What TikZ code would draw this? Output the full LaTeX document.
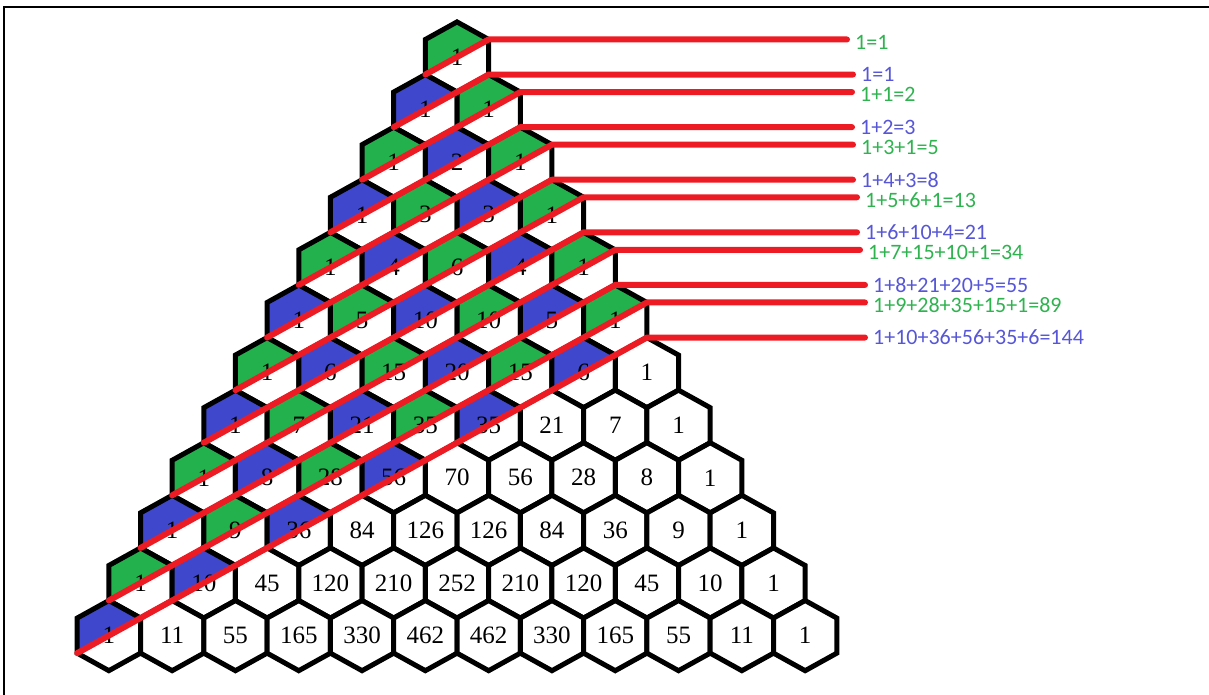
\documentclass[tikz,border=0pt]{standalone}
\usepackage{fontspec}
\setmainfont{Liberation Serif}
\newfontfamily\sumfont{Carlito}
\usetikzlibrary{positioning, calc}

\definecolor{hexgreen}{HTML}{22B14C}
\definecolor{hexblue}{HTML}{3F48CC}
\definecolor{fibred}{HTML}{ED1C24}
\definecolor{sumgreen}{HTML}{2EB34F}
\definecolor{sumblue}{HTML}{5656D6}

\begin{document}
\begin{tikzpicture}[
    x=1pt, y=-1pt,
    hexline/.style={draw=black, line width=5pt, line join=miter},
    num/.style={font=\fontsize{25}{25}\selectfont, inner sep=0pt},
    redline/.style={draw=fibred, line width=6pt, line cap=round, line join=round},
    sumlbl/.style={font=\sumfont\fontsize{22}{22}\selectfont, inner sep=0pt}
]
    \useasboundingbox (0,0) rectangle (1209,695);

    % frame, top and left edges only
    \draw[line width=2pt] (3.5,695) -- (3.5,7) -- (1209,7);

    % Pascal triangle, row n has n+1 cells, apex centre at (457,57)
    \foreach \row [count=\n from 0] in {{1},{1,1},{1,2,1},{1,3,3,1},{1,4,6,4,1},
        {1,5,10,10,5,1},{1,6,15,20,15,6,1},{1,7,21,35,35,21,7,1},
        {1,8,28,56,70,56,28,8,1},{1,9,36,84,126,126,84,36,9,1},
        {1,10,45,120,210,252,210,120,45,10,1},
        {1,11,55,165,330,462,462,330,165,55,11,1}} {
        \foreach \val [count=\k from 0] in \row {
            \pgfmathsetmacro\cx{457+(\k-\n/2)*63.3}
            \pgfmathsetmacro\cy{57+\n*52.6}
            \pgfmathtruncatemacro\diag{\n+\k}
            \coordinate (c-\n-\k) at (\cx,\cy);
            \fill[white] (\cx,\cy) ++(0,-35.07) -- ++(31.65,17.54) -- ++(0,35.07)
                -- ++(-31.65,17.54) -- ++(-31.65,-17.54) -- ++(0,-35.07) -- cycle;
            % upper part of the cell above the diagonal
            \ifnum\diag<12
                \ifodd\diag \def\shade{hexblue}\else \def\shade{hexgreen}\fi
                \fill[\shade] (\cx,\cy) ++(-31.65,17.53) -- ++(0,-35.07)
                    -- ++(31.65,-17.54) -- ++(31.65,17.54) -- cycle;
            \fi
            \draw[hexline] (\cx,\cy) ++(0,-35.07) -- ++(31.65,17.54) -- ++(0,35.07)
                -- ++(-31.65,17.54) -- ++(-31.65,-17.54) -- ++(0,-35.07) -- cycle;
            \node[num] (h-\n-\k) at (c-\n-\k) {\val};
        }
    }

    % shallow diagonals and their sums
    \foreach \d/\lbl/\col/\ex in {0/1=1/sumgreen/847, 1/1=1/sumblue/853,
        2/1+1=2/sumgreen/852, 3/1+2=3/sumblue/852, 4/1+3+1=5/sumgreen/853,
        5/1+4+3=8/sumblue/853, 6/1+5+6+1=13/sumgreen/857,
        7/1+6+10+4=21/sumblue/857, 8/1+7+15+10+1=34/sumgreen/860,
        9/1+8+21+20+5=55/sumblue/865, 10/1+9+28+35+15+1=89/sumgreen/865,
        11/1+10+36+56+35+6=144/sumblue/865} {
        \pgfmathtruncatemacro\m{floor(\d/2)}
        \ifodd\d \def\sg{1}\def\ys{0pt}\else \def\sg{-1}\def\ys{-2.5pt}\fi
        \coordinate (start-\d) at ($(c-\d-0)+(-31.65,17.53)$);
        \coordinate (turn-\d) at ($(c-\m-\m)+(31.65,\sg*17.53)$);
        \coordinate (rim-\d) at (\ex,0);
        \coordinate (end-\d) at (rim-\d |- turn-\d);
        \draw[redline] (start-\d) -- (turn-\d) -- (end-\d);
        \node[sumlbl, text=\col, right=8pt of end-\d, yshift=\ys] (sum-\d) {\lbl};
    }
\end{tikzpicture}
\end{document}
